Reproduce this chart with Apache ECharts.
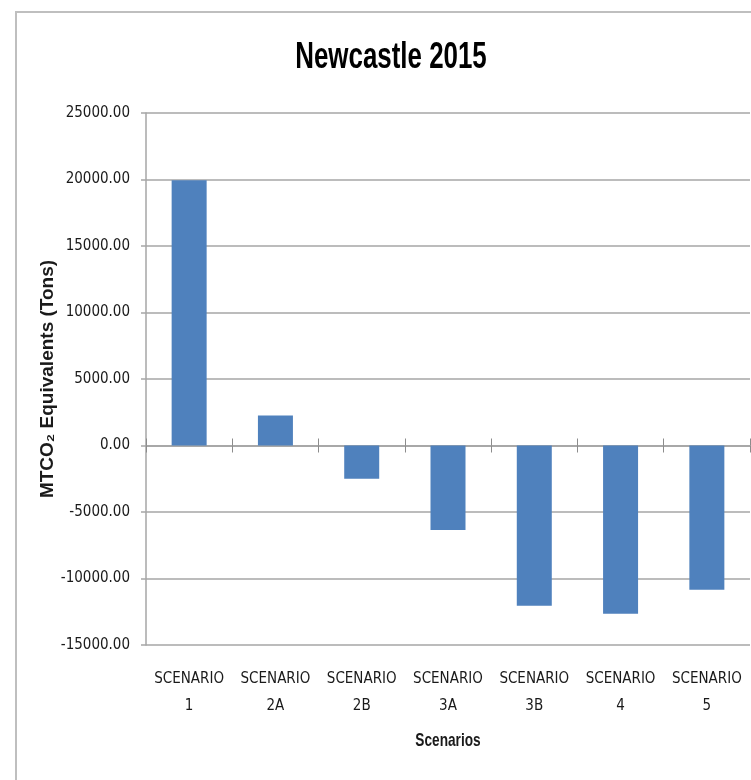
<!DOCTYPE html>
<html>
<head>
<meta charset="utf-8">
<script src="https://cdn.jsdelivr.net/npm/echarts@6/dist/echarts.min.js"></script>
<style>
  html, body { margin: 0; padding: 0; background: #ffffff; }
  #chart { width: 751px; height: 780px; }
</style>
</head>
<body>
<div id="chart"></div>
<script>
// Scenario categories along the x axis
const categories = ['SCENARIO\n1', 'SCENARIO\n2A', 'SCENARIO\n2B', 'SCENARIO\n3A', 'SCENARIO\n3B', 'SCENARIO\n4', 'SCENARIO\n5'];
// Net MTCO2 equivalents (tons) per scenario
const emissions = [19950, 2250, -2500, -6350, -12050, -12650, -10850];
// Value axis range and step
const yMin = -15000;
const yMax = 25000;
const yStep = 5000;

const NARROW = '"Liberation Sans Narrow", "DejaVu Sans Condensed", "Liberation Sans", sans-serif';
const REGULAR = '"Liberation Sans", Arial, sans-serif';
const GRID_GREY = '#a6a6a6';
const TEXT = '#1a1a1a';

const chart = echarts.init(document.getElementById('chart'), null, { renderer: 'canvas' });

const zeroAxisBase = {
  type: 'category',
  data: categories,
  position: 'bottom',
  axisLine: { show: true, onZero: true, onZeroAxisIndex: 0, lineStyle: { color: GRID_GREY, width: 1.5 } },
  axisLabel: { show: false },
  splitLine: { show: false }
};

chart.setOption({
  animation: false,
  backgroundColor: '#ffffff',
  graphic: [
    // chart frame
    {
      type: 'rect',
      shape: { x: 16, y: 12, width: 800, height: 800 },
      style: { fill: 'none', stroke: '#bfbfbf', lineWidth: 2 },
      silent: true,
      z: -1
    },
    // condensed chart title
    {
      type: 'text',
      x: 391,
      y: 58,
      scaleX: 0.7,
      style: {
        text: 'Newcastle 2015',
        x: 0, y: 0,
        align: 'center',
        verticalAlign: 'middle',
        font: 'bold 37px "Liberation Sans", Arial, sans-serif',
        fill: '#000000'
      },
      silent: true
    },
    // condensed x axis title
    {
      type: 'text',
      x: 448,
      y: 741,
      scaleX: 0.72,
      style: {
        text: 'Scenarios',
        x: 0, y: 0,
        align: 'center',
        verticalAlign: 'middle',
        font: 'bold 19px "Liberation Sans", Arial, sans-serif',
        fill: TEXT
      },
      silent: true
    }
  ],
  grid: { left: 146, right: 1, top: 113, bottom: 135, containLabel: false },
  xAxis: [
    // category labels along the bottom edge of the plot
    {
      type: 'category',
      data: categories,
      position: 'bottom',
      axisLine: { show: false, onZero: false },
      axisTick: { show: false },
      axisLabel: {
        interval: 0,
        margin: 21,
        fontFamily: NARROW,
        fontSize: 15,
        lineHeight: 27,
        color: TEXT
      }
    },
    // zero line with ticks hanging below it
    Object.assign({}, zeroAxisBase, {
      axisTick: { show: true, inside: false, length: 7, lineStyle: { color: '#8c8c8c', width: 1 } }
    }),
    // matching ticks rising above the zero line
    Object.assign({}, zeroAxisBase, {
      axisTick: { show: true, inside: true, length: 7, lineStyle: { color: '#8c8c8c', width: 1 } }
    })
  ],
  yAxis: {
    type: 'value',
    min: yMin,
    max: yMax,
    interval: yStep,
    axisLine: { show: true, lineStyle: { color: GRID_GREY, width: 1.5 } },
    axisTick: { show: true, length: 5, lineStyle: { color: GRID_GREY, width: 1.5 } },
    axisLabel: {
      margin: 16,
      fontFamily: NARROW,
      fontSize: 15,
      color: TEXT,
      formatter: v => v.toFixed(2)
    },
    splitLine: { show: true, lineStyle: { color: GRID_GREY, width: 1.5 } },
    name: 'MTCO₂ Equivalents (Tons)',
    nameLocation: 'middle',
    nameMoveOverlap: false,
    nameGap: 89,
    nameTextStyle: { fontFamily: REGULAR, fontWeight: 'bold', fontSize: 19, color: TEXT }
  },
  series: [{
    type: 'bar',
    xAxisIndex: 0,
    data: emissions,
    barWidth: 35,
    itemStyle: { color: '#4f81bd' }
  }]
});
</script>
</body>
</html>
